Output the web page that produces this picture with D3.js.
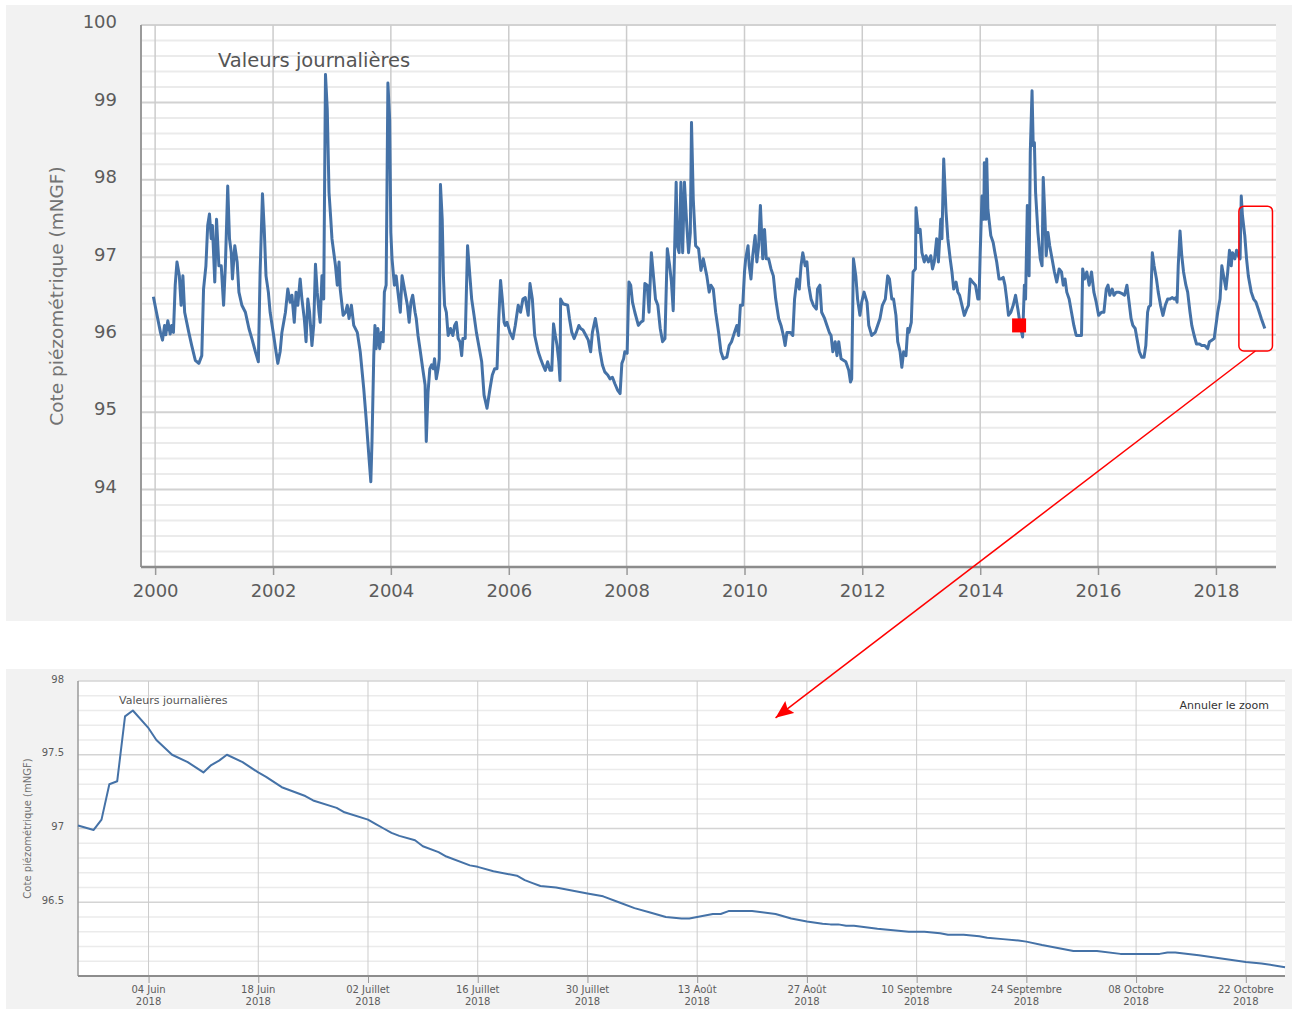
<!DOCTYPE html>
<html>
<head>
<meta charset="utf-8">
<script src="https://d3js.org/d3.v7.min.js"></script>
<style>
  body { margin: 0; background: #fff; }
  text { font-family: "DejaVu Sans", Verdana, sans-serif; }
</style>
</head>
<body>
<script>
// daily groundwater level, 2000-2018 (decimal year, mNGF)
var topYears = [
  1999.97, 2000.09, 2000.125, 2000.16, 2000.18, 2000.215, 2000.255, 2000.28, 2000.31, 2000.34, 2000.37, 2000.41, 2000.44, 2000.47, 2000.50,
  2000.57, 2000.62, 2000.68, 2000.74, 2000.79, 2000.82, 2000.86, 2000.89, 2000.92, 2000.95, 2000.97, 2001.01, 2001.04, 2001.08, 2001.12,
  2001.16, 2001.19, 2001.23, 2001.26, 2001.29, 2001.31, 2001.35, 2001.39, 2001.42, 2001.47, 2001.53, 2001.59, 2001.64, 2001.70, 2001.75,
  2001.78, 2001.82, 2001.85, 2001.88, 2001.92, 2001.95, 2002.01, 2002.05, 2002.08, 2002.12, 2002.15, 2002.21, 2002.25, 2002.29, 2002.32,
  2002.36, 2002.39, 2002.42, 2002.46, 2002.49, 2002.53, 2002.56, 2002.59, 2002.62, 2002.66, 2002.69, 2002.72, 2002.75, 2002.78, 2002.80,
  2002.83, 2002.86, 2002.89, 2002.92, 2002.95, 2002.98, 2003.00, 2003.06, 2003.09, 2003.12, 2003.14, 2003.19, 2003.23, 2003.26, 2003.29,
  2003.33, 2003.37, 2003.43, 2003.48, 2003.54, 2003.58, 2003.63, 2003.66, 2003.68, 2003.71, 2003.73, 2003.75, 2003.78, 2003.81, 2003.84,
  2003.87, 2003.89, 2003.92, 2003.95, 2003.98, 2004.00, 2004.02, 2004.06, 2004.09, 2004.12, 2004.16, 2004.19, 2004.24, 2004.28, 2004.31,
  2004.34, 2004.37, 2004.41, 2004.43, 2004.46, 2004.50, 2004.54, 2004.58,
  2004.60, 2004.63, 2004.66, 2004.69, 2004.72, 2004.74, 2004.77, 2004.80, 2004.82, 2004.84, 2004.87, 2004.89, 2004.91, 2004.94, 2004.97,
  2005.01, 2005.05, 2005.08, 2005.11, 2005.14, 2005.17, 2005.20, 2005.22, 2005.26, 2005.30, 2005.33, 2005.37, 2005.41, 2005.45, 2005.50,
  2005.54, 2005.58, 2005.63, 2005.68, 2005.72, 2005.76, 2005.80, 2005.83, 2005.86, 2005.89, 2005.92, 2005.94, 2005.97, 2006.02, 2006.07,
  2006.11, 2006.16, 2006.20, 2006.24, 2006.28, 2006.33, 2006.36, 2006.40, 2006.44, 2006.50, 2006.54, 2006.58, 2006.62, 2006.66, 2006.70,
  2006.73, 2006.76, 2006.79, 2006.82, 2006.85, 2006.87, 2006.88, 2006.92, 2007.00, 2007.03, 2007.07, 2007.11, 2007.15, 2007.19, 2007.22,
  2007.26, 2007.31, 2007.35, 2007.39, 2007.42, 2007.47, 2007.51, 2007.55, 2007.59, 2007.63, 2007.68, 2007.72, 2007.76, 2007.80, 2007.85,
  2007.89, 2007.92, 2007.95, 2007.97, 2008.01, 2008.04, 2008.07, 2008.10, 2008.14, 2008.20, 2008.24, 2008.28, 2008.31, 2008.35, 2008.38,
  2008.42, 2008.46, 2008.49, 2008.53, 2008.57, 2008.61, 2008.65, 2008.69, 2008.73, 2008.76, 2008.79, 2008.84, 2008.86, 2008.89, 2008.92,
  2008.95, 2008.98, 2009.02, 2009.05, 2009.08, 2009.10, 2009.13, 2009.17, 2009.22, 2009.26, 2009.30,
  2009.36, 2009.40, 2009.43, 2009.47, 2009.51, 2009.56, 2009.60, 2009.64, 2009.70, 2009.74, 2009.78, 2009.83, 2009.87, 2009.90, 2009.93,
  2009.97, 2010.00, 2010.02, 2010.06, 2010.08, 2010.11, 2010.14, 2010.18, 2010.21, 2010.24, 2010.27, 2010.31, 2010.34, 2010.37, 2010.41,
  2010.45, 2010.49, 2010.53, 2010.58, 2010.62, 2010.66, 2010.69, 2010.72, 2010.78, 2010.82, 2010.85, 2010.89, 2010.93, 2010.96, 2010.99,
  2011.03, 2011.06, 2011.09, 2011.13, 2011.17, 2011.22, 2011.24, 2011.28, 2011.31, 2011.36, 2011.40, 2011.44, 2011.47, 2011.50, 2011.54,
  2011.57, 2011.60, 2011.64, 2011.68, 2011.72, 2011.77, 2011.80, 2011.82, 2011.85, 2011.89, 2011.92, 2011.96, 2011.99, 2012.03, 2012.08,
  2012.11, 2012.16, 2012.22, 2012.26, 2012.30, 2012.34, 2012.39, 2012.43, 2012.46, 2012.50, 2012.53, 2012.57, 2012.60, 2012.64, 2012.67,
  2012.70, 2012.74, 2012.77, 2012.79, 2012.83, 2012.86, 2012.90, 2012.91, 2012.95, 2012.98, 2013.01, 2013.05, 2013.08, 2013.12, 2013.16,
  2013.19, 2013.22, 2013.26, 2013.29, 2013.33, 2013.35, 2013.38, 2013.42, 2013.45, 2013.49, 2013.52, 2013.55, 2013.59, 2013.62, 2013.65,
  2013.69, 2013.73, 2013.77, 2013.80, 2013.83, 2013.87, 2013.92, 2013.96, 2013.98, 2014.00, 2014.03, 2014.06, 2014.07, 2014.10,
  2014.11, 2014.13, 2014.18, 2014.22, 2014.25, 2014.28, 2014.32, 2014.35, 2014.39, 2014.42, 2014.45, 2014.48, 2014.52, 2014.56, 2014.60,
  2014.64, 2014.68, 2014.72, 2014.75, 2014.77, 2014.80, 2014.83, 2014.85, 2014.88, 2014.90, 2014.92, 2014.94, 2014.98, 2015.02, 2015.05,
  2015.07, 2015.10, 2015.12, 2015.15, 2015.18, 2015.22, 2015.26, 2015.30, 2015.34, 2015.38, 2015.41, 2015.44, 2015.47, 2015.51, 2015.55,
  2015.59, 2015.63, 2015.72, 2015.74, 2015.77, 2015.81, 2015.85, 2015.89, 2015.93, 2015.97, 2016.01, 2016.06, 2016.10, 2016.14, 2016.17,
  2016.20, 2016.24, 2016.27, 2016.31, 2016.35, 2016.41, 2016.45, 2016.49, 2016.52, 2016.56, 2016.59, 2016.63, 2016.66, 2016.70, 2016.74,
  2016.78, 2016.81, 2016.84, 2016.86, 2016.89, 2016.92, 2016.95, 2016.99, 2017.02, 2017.06, 2017.10, 2017.14, 2017.18, 2017.22, 2017.26,
  2017.29, 2017.32, 2017.34, 2017.36, 2017.39, 2017.42, 2017.45, 2017.49, 2017.52, 2017.56, 2017.59, 2017.63, 2017.67, 2017.72, 2017.76,
  2017.81, 2017.86, 2017.89, 2017.93, 2017.97, 2018.00, 2018.03, 2018.07, 2018.10, 2018.14, 2018.17, 2018.20, 2018.23, 2018.26, 2018.28,
  2018.32, 2018.35, 2018.38, 2018.41, 2018.43, 2018.45, 2018.49, 2018.52, 2018.55, 2018.60, 2018.64, 2018.68, 2018.72, 2018.77, 2018.83
];
var topValues = [
  96.49, 96.03, 95.93, 96.12, 96.00, 96.18, 96.01, 96.12, 96.03, 96.64, 96.94, 96.76, 96.38, 96.76, 96.29,
  96.03, 95.86, 95.67, 95.63, 95.73, 96.59, 96.89, 97.41, 97.56, 97.24, 97.41, 96.68, 97.49, 96.89, 96.89,
  96.38, 96.89, 97.92, 97.24, 97.06, 96.72, 97.15, 96.94, 96.55, 96.38, 96.29, 96.08, 95.95, 95.78, 95.65,
  96.81, 97.82, 97.36, 96.76, 96.55, 96.29, 95.99, 95.78, 95.63, 95.78, 96.03, 96.29, 96.59, 96.42, 96.51,
  96.16, 96.55, 96.38, 96.72, 96.46, 96.21, 95.91, 96.46, 96.29, 95.86, 96.12, 96.91, 96.55, 96.29, 96.16,
  96.76, 96.46, 99.36, 98.91, 97.84, 97.49, 97.24, 96.89, 96.64, 96.94, 96.59, 96.25, 96.29, 96.38, 96.21,
  96.38, 96.12, 96.03, 95.78, 95.30, 94.92, 94.40, 94.10, 94.62, 95.73, 96.12, 95.82, 96.08, 95.82, 96.03,
  95.91, 96.55, 96.64, 99.25, 98.78, 97.32, 96.98, 96.64, 96.76, 96.55, 96.29, 96.76, 96.55, 96.38, 96.16,
  96.42, 96.51, 96.29, 96.21, 95.99, 95.78, 95.56, 95.35,
  94.62, 95.26, 95.56, 95.61, 95.56, 95.69, 95.43, 95.56, 95.69, 97.94, 97.49, 96.76, 96.38, 96.29, 95.99,
  96.08, 95.99, 96.12, 96.16, 95.95, 95.91, 95.73, 95.95, 95.95, 97.15, 96.85, 96.46, 96.25, 96.03, 95.82,
  95.65, 95.22, 95.05, 95.30, 95.48, 95.56, 95.56, 96.21, 96.70, 96.46, 96.16, 96.12, 96.16, 96.03, 95.95,
  96.12, 96.38, 96.29, 96.46, 96.48, 96.25, 96.66, 96.46, 95.99, 95.78, 95.69, 95.61, 95.54, 95.65, 95.54,
  95.54, 96.14, 95.99, 95.86, 95.65, 95.41, 96.46, 96.40, 96.38, 96.21, 96.03, 95.95, 96.03, 96.12, 96.08,
  96.06, 95.99, 95.93, 95.78, 96.03, 96.21, 96.03, 95.78, 95.61, 95.52, 95.48, 95.43, 95.45, 95.37, 95.28,
  95.24, 95.63, 95.69, 95.78, 95.76, 96.68, 96.64, 96.42, 96.29, 96.12, 96.16, 96.18, 96.66, 96.64, 96.29,
  97.06, 96.72, 96.46, 96.38, 96.08, 95.91, 95.95, 97.11, 96.89, 96.68, 96.31, 97.97, 97.15, 97.06, 97.97,
  97.06, 97.97, 97.41, 97.06, 97.32, 98.74, 97.75, 97.15, 97.11, 96.83, 96.98,
  96.76, 96.55, 96.64, 96.59, 96.29, 96.03, 95.78, 95.69, 95.71, 95.86, 95.91, 96.03, 96.12, 95.99, 96.38,
  96.38, 96.81, 96.98, 97.15, 96.89, 96.72, 97.02, 97.28, 96.94, 97.15, 97.67, 96.98, 97.36, 96.98, 96.98,
  96.85, 96.76, 96.46, 96.21, 96.12, 95.99, 95.86, 96.03, 96.03, 95.99, 96.46, 96.72, 96.59, 96.89, 97.06,
  96.89, 96.94, 96.64, 96.46, 96.38, 96.33, 96.59, 96.64, 96.29, 96.21, 96.12, 96.03, 95.99, 95.78, 95.91,
  95.73, 95.91, 95.69, 95.67, 95.65, 95.54, 95.39, 95.43, 96.98, 96.76, 96.46, 96.25, 96.42, 96.55, 96.42,
  96.12, 95.99, 96.03, 96.12, 96.21, 96.38, 96.46, 96.76, 96.72, 96.46, 96.46, 96.25, 95.91, 95.78, 95.58,
  95.78, 95.73, 96.08, 96.03, 96.16, 96.81, 96.85, 97.64, 97.32, 97.36, 97.06, 96.94, 97.02, 96.94, 97.02,
  96.85, 96.94, 97.24, 96.94, 97.49, 97.24, 98.27, 97.58, 97.24, 96.98, 96.81, 96.59, 96.68, 96.55, 96.51,
  96.38, 96.25, 96.33, 96.38, 96.72, 96.68, 96.64, 96.46, 96.46, 97.06, 97.79, 97.49, 98.22, 97.49,
  98.27, 97.62, 97.28, 97.19, 97.06, 96.94, 96.72, 96.72, 96.74, 96.64, 96.46, 96.25, 96.29, 96.38, 96.51,
  96.33, 96.12, 95.97, 96.64, 96.46, 97.67, 96.76, 98.35, 99.15, 98.44, 98.48, 97.84, 97.32, 96.98, 96.89,
  98.03, 97.49, 97.02, 97.32, 97.15, 96.98, 96.81, 96.68, 96.85, 96.81, 96.64, 96.72, 96.55, 96.46, 96.29,
  96.12, 95.99, 95.99, 96.85, 96.72, 96.81, 96.64, 96.81, 96.55, 96.42, 96.25, 96.29, 96.29, 96.59, 96.64,
  96.51, 96.59, 96.51, 96.55, 96.55, 96.53, 96.51, 96.64, 96.46, 96.21, 96.12, 96.08, 95.95, 95.78, 95.71,
  95.71, 95.86, 96.29, 96.36, 96.38, 97.06, 96.89, 96.72, 96.55, 96.38, 96.25, 96.38, 96.46, 96.46, 96.48,
  96.46, 96.48, 96.42, 96.89, 97.34, 97.02, 96.81, 96.64, 96.55, 96.29, 96.12, 95.99, 95.88, 95.88, 95.86,
  95.86, 95.82, 95.91, 95.93, 95.95, 96.12, 96.29, 96.46, 96.89, 96.72, 96.59, 96.81, 97.09, 96.89, 97.06,
  96.98, 97.09, 97.02, 96.98, 97.79, 97.54, 97.28, 96.98, 96.76, 96.55, 96.46, 96.42, 96.33, 96.21, 96.08
];

// zoomed period, May - October 2018
var zoomDates = [
  "2018-05-26", "2018-05-28", "2018-05-29", "2018-05-30", "2018-05-31", "2018-06-01", "2018-06-02", "2018-06-04", "2018-06-05", "2018-06-07",
  "2018-06-09", "2018-06-11", "2018-06-12", "2018-06-13", "2018-06-14", "2018-06-16", "2018-06-18", "2018-06-19", "2018-06-21", "2018-06-24",
  "2018-06-25", "2018-06-28", "2018-06-29", "2018-07-02", "2018-07-03", "2018-07-04", "2018-07-05", "2018-07-06", "2018-07-08", "2018-07-09",
  "2018-07-11", "2018-07-12", "2018-07-15", "2018-07-16", "2018-07-18", "2018-07-21", "2018-07-22", "2018-07-23", "2018-07-24", "2018-07-26",
  "2018-07-28", "2018-07-30", "2018-08-01", "2018-08-03", "2018-08-05", "2018-08-07", "2018-08-09", "2018-08-11", "2018-08-12", "2018-08-13",
  "2018-08-15", "2018-08-16", "2018-08-17", "2018-08-18", "2018-08-20", "2018-08-23", "2018-08-25", "2018-08-27", "2018-08-29", "2018-08-30",
  "2018-08-31", "2018-09-01", "2018-09-02", "2018-09-05", "2018-09-08", "2018-09-09", "2018-09-11", "2018-09-13", "2018-09-14", "2018-09-16",
  "2018-09-18", "2018-09-19", "2018-09-21", "2018-09-23", "2018-09-24", "2018-09-26", "2018-09-28", "2018-09-30", "2018-10-03", "2018-10-06",
  "2018-10-08", "2018-10-11", "2018-10-12", "2018-10-13", "2018-10-16", "2018-10-18", "2018-10-20", "2018-10-22", "2018-10-24", "2018-10-27"
];
var zoomValues = [
  97.02, 96.99, 97.06, 97.30, 97.32, 97.76, 97.80, 97.68, 97.60, 97.50,
  97.45, 97.38, 97.43, 97.46, 97.50, 97.45, 97.38, 97.35, 97.28, 97.22,
  97.19, 97.14, 97.11, 97.06, 97.03, 97.00, 96.97, 96.95, 96.92, 96.88,
  96.84, 96.81, 96.75, 96.74, 96.71, 96.68, 96.65, 96.63, 96.61, 96.60,
  96.58, 96.56, 96.54, 96.50, 96.46, 96.43, 96.40, 96.39, 96.39, 96.40,
  96.42, 96.42, 96.44, 96.44, 96.44, 96.42, 96.39, 96.37, 96.355, 96.35,
  96.35, 96.34, 96.34, 96.32, 96.305, 96.30, 96.30, 96.29, 96.28, 96.28,
  96.27, 96.26, 96.25, 96.24, 96.233, 96.21, 96.19, 96.17, 96.17, 96.15,
  96.15, 96.15, 96.16, 96.16, 96.14, 96.125, 96.11, 96.095, 96.085, 96.06
];

var topYTicks = [94, 95, 96, 97, 98, 99, 100];
var zoomYTicks = [96.5, 97, 97.5, 98];
var zoomXTicks = ["2018-06-04", "2018-06-18", "2018-07-02", "2018-07-16", "2018-07-30", "2018-08-13",
                  "2018-08-27", "2018-09-10", "2018-09-24", "2018-10-08", "2018-10-22"];

// annotations
var redPoint = { year: 2014.66, value: 96.12 };
var zoomBox = { from: 2018.39, to: 2018.96, top: 97.66, bottom: 95.79 };
var arrowStart = { year: 2018.67, value: 95.79 };
var arrowEnd = { date: "2018-08-23", value: 97.75 };

var lineColor = "#4572A7";

function yearToDate(y) {
  var yr = Math.floor(y);
  var a = Date.UTC(yr, 0, 1), b = Date.UTC(yr + 1, 0, 1);
  return new Date(a + (y - yr) * (b - a));
}
var parseDay = d3.utcParse("%Y-%m-%d");

var fr = d3.timeFormatLocale({
  dateTime: "%A %e %B %Y à %X", date: "%d/%m/%Y", time: "%H:%M:%S", periods: ["AM", "PM"],
  days: ["dimanche", "lundi", "mardi", "mercredi", "jeudi", "vendredi", "samedi"],
  shortDays: ["dim.", "lun.", "mar.", "mer.", "jeu.", "ven.", "sam."],
  months: ["Janvier", "Février", "Mars", "Avril", "Mai", "Juin", "Juillet", "Août", "Septembre", "Octobre", "Novembre", "Décembre"],
  shortMonths: ["janv.", "févr.", "mars", "avr.", "mai", "juin", "juil.", "août", "sept.", "oct.", "nov.", "déc."]
});
var fmtDayMonth = fr.utcFormat("%d %B");

var svg = d3.select("body").append("svg").attr("width", 1292).attr("height", 1009);

// panel backgrounds
svg.append("rect").attr("x", 6).attr("y", 5).attr("width", 1286).attr("height", 616).attr("fill", "#f2f2f2");
svg.append("rect").attr("x", 6).attr("y", 669).attr("width", 1286).attr("height", 340).attr("fill", "#f2f2f2");

// ---------------- overview chart ----------------
var t = { left: 141, right: 1276, top: 25, bottom: 567 };
var x1 = d3.scaleUtc().domain([yearToDate(1999.76), yearToDate(2019.02)]).range([t.left, t.right]);
var y1 = d3.scaleLinear().domain([93, 100]).range([t.bottom, t.top]);

svg.append("rect").attr("x", t.left).attr("y", t.top).attr("width", t.right - t.left).attr("height", t.bottom - t.top).attr("fill", "#fff");

var g1 = svg.append("g");
var minor1 = d3.range(930, 1000, 2).map(function (v) { return v / 10; }).filter(function (v) { return v % 1 !== 0; });
g1.selectAll(".minor").data(minor1).enter().append("line")
  .attr("x1", t.left).attr("x2", t.right)
  .attr("y1", function (d) { return y1(d); }).attr("y2", function (d) { return y1(d); })
  .attr("stroke", "#ebebeb").attr("stroke-width", 2);
g1.selectAll(".major").data(topYTicks).enter().append("line")
  .attr("x1", t.left).attr("x2", t.right)
  .attr("y1", function (d) { return y1(d); }).attr("y2", function (d) { return y1(d); })
  .attr("stroke", "#d2d2d2").attr("stroke-width", 2);
var yearTicks = x1.ticks(d3.utcYear.every(2));
g1.selectAll(".vgrid").data(yearTicks).enter().append("line")
  .attr("x1", function (d) { return x1(d); }).attr("x2", function (d) { return x1(d); })
  .attr("y1", t.top).attr("y2", t.bottom)
  .attr("stroke", "#cccccc").attr("stroke-width", 1.5);

// axes
var xAxis1 = svg.append("g").attr("transform", "translate(0," + t.bottom + ")")
  .call(d3.axisBottom(x1).tickValues(yearTicks).tickFormat(d3.utcFormat("%Y")).tickSize(8).tickPadding(9));
xAxis1.select(".domain").remove();
xAxis1.selectAll("line").attr("stroke", "#999").attr("stroke-width", 1.5);
xAxis1.selectAll("text").attr("fill", "#5c5c5c").style("font-size", "18px");

var yAxis1 = svg.append("g").attr("transform", "translate(" + t.left + ",0)")
  .call(d3.axisLeft(y1).tickValues(topYTicks).tickFormat(d3.format("d")).tickSize(0).tickPadding(24));
yAxis1.select(".domain").remove();
yAxis1.selectAll("text").attr("fill", "#5c5c5c").style("font-size", "18px").attr("y", -3);

svg.append("line").attr("x1", t.left).attr("x2", t.left).attr("y1", t.top).attr("y2", t.bottom)
  .attr("stroke", "#9a9a9a").attr("stroke-width", 2);
svg.append("line").attr("x1", t.left).attr("x2", t.right).attr("y1", t.bottom).attr("y2", t.bottom)
  .attr("stroke", "#8c8c8c").attr("stroke-width", 2.5);

svg.append("text").attr("transform", "translate(57," + (t.top + t.bottom) / 2 + ") rotate(-90)")
  .attr("text-anchor", "middle").attr("dy", "0.35em")
  .style("font-size", "18.5px").attr("fill", "#737373").text("Cote piézométrique (mNGF)");

svg.append("text").attr("x", t.left + 77).attr("y", t.top + 42)
  .style("font-size", "19.5px").attr("fill", "#555").text("Valeurs journalières");

var line1 = d3.line()
  .x(function (d) { return x1(yearToDate(d[0])); })
  .y(function (d) { return y1(d[1]); });
svg.append("path").datum(d3.zip(topYears, topValues))
  .attr("d", line1).attr("fill", "none").attr("stroke", lineColor)
  .attr("stroke-width", 3).attr("stroke-linejoin", "round");

// highlighted measurement
svg.append("rect")
  .attr("x", x1(yearToDate(redPoint.year)) - 7).attr("y", y1(redPoint.value) - 7)
  .attr("width", 14).attr("height", 14).attr("fill", "#ff0000");

// ---------------- zoomed chart ----------------
var b = { left: 78, right: 1285, top: 681, bottom: 976 };
var x2 = d3.scaleUtc().domain([parseDay("2018-05-26"), parseDay("2018-10-27")]).range([b.left, b.right]);
var y2 = d3.scaleLinear().domain([96, 98]).range([b.bottom, b.top]);

svg.append("rect").attr("x", b.left).attr("y", b.top).attr("width", b.right - b.left).attr("height", b.bottom - b.top).attr("fill", "#fff");

var g2 = svg.append("g");
var minor2 = d3.range(960, 981, 1).map(function (v) { return v / 10; }).filter(function (v) { return zoomYTicks.indexOf(v) < 0; });
g2.selectAll(".minor").data(minor2).enter().append("line")
  .attr("x1", b.left).attr("x2", b.right)
  .attr("y1", function (d) { return y2(d); }).attr("y2", function (d) { return y2(d); })
  .attr("stroke", "#ebebeb").attr("stroke-width", 1.5);
g2.selectAll(".major").data(zoomYTicks).enter().append("line")
  .attr("x1", b.left).attr("x2", b.right)
  .attr("y1", function (d) { return y2(d); }).attr("y2", function (d) { return y2(d); })
  .attr("stroke", "#d4d4d4").attr("stroke-width", 1.5);
var dayTicks = zoomXTicks.map(parseDay);
g2.selectAll(".vgrid").data(dayTicks).enter().append("line")
  .attr("x1", function (d) { return x2(d); }).attr("x2", function (d) { return x2(d); })
  .attr("y1", b.top).attr("y2", b.bottom)
  .attr("stroke", "#cccccc").attr("stroke-width", 1);

var xAxis2 = svg.append("g").attr("transform", "translate(0," + b.bottom + ")")
  .call(d3.axisBottom(x2).tickValues(dayTicks).tickFormat("").tickSize(7));
xAxis2.select(".domain").remove();
xAxis2.selectAll("line").attr("stroke", "#999");
var lbl = svg.append("g").selectAll("text").data(dayTicks).enter().append("text")
  .attr("x", function (d) { return x2(d); }).attr("y", 992.5)
  .attr("text-anchor", "middle").style("font-size", "10px").attr("fill", "#5c5c5c");
lbl.append("tspan").attr("x", function (d) { return x2(d); }).text(function (d) { return fmtDayMonth(d); });
lbl.append("tspan").attr("x", function (d) { return x2(d); }).attr("dy", 12.5).text(function (d) { return d3.utcFormat("%Y")(d); });

var yAxis2 = svg.append("g").attr("transform", "translate(" + b.left + ",0)")
  .call(d3.axisLeft(y2).tickValues(zoomYTicks).tickSize(0).tickPadding(14).tickFormat(d3.format("~g")));
yAxis2.select(".domain").remove();
yAxis2.selectAll("text").attr("fill", "#5c5c5c").style("font-size", "10px").attr("y", -2);

svg.append("line").attr("x1", b.left).attr("x2", b.left).attr("y1", b.top).attr("y2", b.bottom)
  .attr("stroke", "#9a9a9a").attr("stroke-width", 1.5);
svg.append("line").attr("x1", b.left).attr("x2", b.right).attr("y1", b.bottom).attr("y2", b.bottom)
  .attr("stroke", "#8c8c8c").attr("stroke-width", 2);

svg.append("text").attr("transform", "translate(27," + (y2(96.5) + y2(97.5)) / 2 + ") rotate(-90)")
  .attr("text-anchor", "middle").attr("dy", "0.35em")
  .style("font-size", "10px").attr("fill", "#737373").text("Cote piézométrique (mNGF)");

svg.append("text").attr("x", b.left + 41).attr("y", b.top + 23)
  .style("font-size", "11px").attr("fill", "#555").text("Valeurs journalières");
svg.append("text").attr("x", 1269).attr("y", 709).attr("text-anchor", "end")
  .style("font-size", "11px").attr("fill", "#333").text("Annuler le zoom");

var line2 = d3.line()
  .x(function (d) { return x2(parseDay(d[0])); })
  .y(function (d) { return y2(d[1]); });
svg.append("path").datum(d3.zip(zoomDates, zoomValues))
  .attr("d", line2).attr("fill", "none").attr("stroke", lineColor)
  .attr("stroke-width", 2).attr("stroke-linejoin", "round");

// ---------------- zoom annotation (box + arrow) ----------------
var bx0 = x1(yearToDate(zoomBox.from)), bx1 = x1(yearToDate(zoomBox.to));
svg.append("rect").attr("x", bx0).attr("y", y1(zoomBox.top))
  .attr("width", bx1 - bx0).attr("height", y1(zoomBox.bottom) - y1(zoomBox.top))
  .attr("rx", 5).attr("fill", "none").attr("stroke", "#ff0000").attr("stroke-width", 1.5);

svg.append("defs").append("marker").attr("id", "head")
  .attr("viewBox", "0 -8 18 16").attr("refX", 18).attr("refY", 0)
  .attr("markerWidth", 18).attr("markerHeight", 16).attr("markerUnits", "userSpaceOnUse")
  .attr("orient", "auto")
  .append("path").attr("d", "M0,-7.5L18,0L0,7.5L3,0Z").attr("fill", "#ff0000");

svg.append("line")
  .attr("x1", x1(yearToDate(arrowStart.year))).attr("y1", y1(arrowStart.value))
  .attr("x2", x2(parseDay(arrowEnd.date))).attr("y2", y2(arrowEnd.value))
  .attr("stroke", "#ff0000").attr("stroke-width", 1.5).attr("marker-end", "url(#head)");
</script>
</body>
</html>
